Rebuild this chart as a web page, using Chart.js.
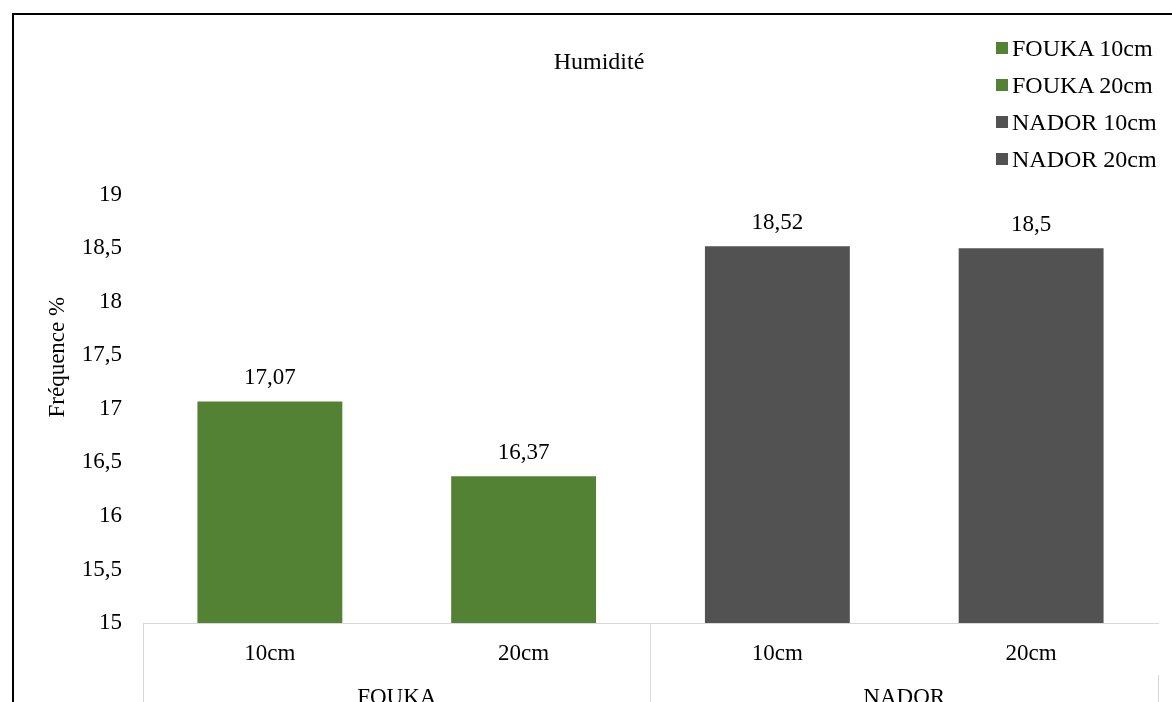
<!DOCTYPE html>
<html lang="fr">
<head>
<meta charset="utf-8">
<title>Humidité</title>
<script src="https://cdn.jsdelivr.net/npm/chart.js@4.4.1/dist/chart.umd.min.js"></script>
<style>
  html, body { margin: 0; padding: 0; background: #fff; overflow: hidden; }
  #frame {
    position: absolute; left: 12px; top: 13px;
    width: 1200px; height: 740px;
    border: 2px solid #000;
  }
  #wrap { position: absolute; left: 0; top: 0; width: 1172px; height: 740px; }
  #legend {
    position: absolute; left: 996px; top: 30px;
    font: 24px "Liberation Serif", "DejaVu Serif", serif; color: #000;
  }
  #legend .item { height: 37px; line-height: 37px; white-space: nowrap; }
  #legend .box {
    display: inline-block; width: 12px; height: 12px;
    margin-right: 4px; vertical-align: middle; position: relative; top: -2px;
  }
</style>
</head>
<body>
<div id="frame"></div>
<div id="wrap"><canvas id="humChart"></canvas></div>
<div id="legend"></div>

<script>
// données du graphique
const categories = ["FOUKA 10cm", "FOUKA 20cm", "NADOR 10cm", "NADOR 20cm"];
const depths = ["10cm", "20cm", "10cm", "20cm"];
const sites = ["FOUKA", "NADOR"];
const values = [17.07, 16.37, 18.52, 18.5];
const barColors = ["#548235", "#548235", "#525252", "#525252"];

const FONT = "'Liberation Serif', 'DejaVu Serif', serif";

// virgule décimale
function fmt(v) {
  return String(v).replace(".", ",");
}

// légende à droite, en haut
const legendEl = document.getElementById("legend");
categories.forEach((c, i) => {
  const row = document.createElement("div");
  row.className = "item";
  const box = document.createElement("span");
  box.className = "box";
  box.style.background = barColors[i];
  row.appendChild(box);
  row.appendChild(document.createTextNode(c));
  legendEl.appendChild(row);
});

// étiquettes de valeur au-dessus des barres
const valueLabels = {
  id: "valueLabels",
  afterDatasetsDraw(chart) {
    const ctx = chart.ctx;
    const meta = chart.getDatasetMeta(0);
    ctx.save();
    ctx.font = "23px " + FONT;
    ctx.fillStyle = "#000";
    ctx.textAlign = "center";
    ctx.textBaseline = "middle";
    meta.data.forEach((bar, i) => {
      ctx.fillText(fmt(values[i]), bar.x, bar.y - 23);
    });
    ctx.restore();
  }
};

// titre de l'axe décalé vers le haut (espaces en tête)
const yTitle = " ".repeat(18) + "Fréquence %";

const ctx = document.getElementById("humChart").getContext("2d");
const chart = new Chart(ctx, {
  type: "bar",
  data: {
    labels: depths,
    datasets: [{
      label: "Humidité",
      data: values,
      backgroundColor: barColors,
      borderWidth: 0,
      categoryPercentage: 1,
      barPercentage: 0.571
    }]
  },
  options: {
    responsive: true,
    maintainAspectRatio: false,
    animation: false,
    layout: { padding: { left: 40, right: 14, top: 0, bottom: 0 } },
    plugins: {
      legend: { display: false },
      tooltip: { enabled: false },
      title: {
        display: true,
        text: "Humidité",
        color: "#000",
        font: { family: FONT, size: 24, weight: "normal" },
        padding: { top: 48, bottom: 118 }
      }
    },
    scales: {
      y: {
        min: 15,
        max: 19,
        ticks: {
          stepSize: 0.5,
          color: "#000",
          font: { family: FONT, size: 23 },
          padding: 21,
          callback: v => fmt(v)
        },
        grid: { display: false, drawTicks: false },
        border: { display: false },
        title: {
          display: true,
          text: yTitle,
          color: "#000",
          font: { family: FONT, size: 23 }
        },
        afterFit: s => { s.width = 103; }
      },
      x: {
        offset: true,
        ticks: {
          color: "#000",
          font: { family: FONT, size: 23 },
          padding: -35,
          maxRotation: 0
        },
        grid: {
          offset: true,
          drawOnChartArea: false,
          drawTicks: true,
          tickLength: 52,
          // seulement les séparateurs de groupes
          color: c => (c.index % 2 === 0 ? "#d9d9d9" : "rgba(0,0,0,0)")
        },
        border: { display: true, color: "#d9d9d9", width: 1 },
        afterFit: s => { s.height = 52; }
      },
      x2: {
        type: "category",
        position: "bottom",
        labels: sites,
        offset: true,
        ticks: {
          color: "#000",
          font: { family: FONT, size: 23 },
          padding: -56,
          maxRotation: 0
        },
        grid: {
          offset: true,
          drawOnChartArea: false,
          drawTicks: true,
          tickLength: 65,
          color: "#d9d9d9"
        },
        border: { display: false },
        afterFit: s => { s.height = 65; }
      }
    }
  },
  plugins: [valueLabels]
});
</script>
</body>
</html>
